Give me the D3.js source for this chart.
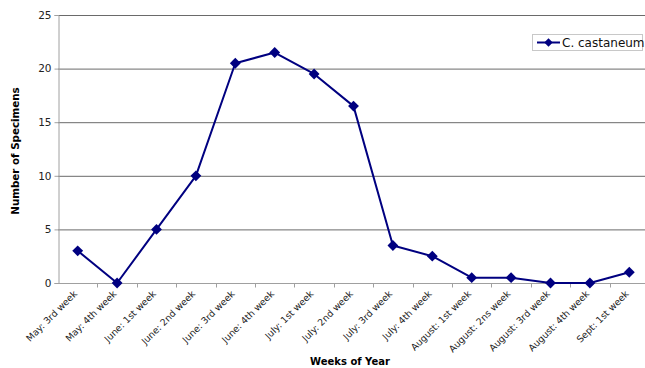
<!DOCTYPE html>
<html>
<head>
<meta charset="utf-8">
<script src="https://cdn.jsdelivr.net/npm/d3@7"></script>
<style>
  body { margin: 0; background: #fff; }
  text { font-family: "DejaVu Sans", Verdana, sans-serif; }
</style>
</head>
<body>
<div id="chart"></div>
<script>
// weeks on the x axis
var weeks = ["May: 3rd week", "May: 4th week", "June: 1st week", "June: 2nd week",
  "June: 3rd week", "June: 4th week", "July: 1st week", "July: 2nd week",
  "July: 3rd week", "July: 4th week", "August: 1st week", "August: 2ns week",
  "August: 3rd week", "August: 4th week", "Sept: 1st week"];
// specimen counts
var specimens = [3, 0, 5, 10, 20.5, 21.5, 19.5, 16.5, 3.5, 2.5, 0.5, 0.5, 0, 0, 1];
var yTicks = [0, 5, 10, 15, 20, 25];
var seriesName = "C. castaneum";

var W = 645, H = 368;
var margin = {top: 15, right: -4, bottom: 85, left: 58};
var width = W - margin.left - margin.right;
var height = H - margin.top - margin.bottom;

var svg = d3.select("#chart").append("svg")
  .attr("width", W).attr("height", H);

var g = svg.append("g")
  .attr("transform", "translate(" + margin.left + "," + margin.top + ")");

var x = d3.scaleBand().domain(weeks).range([0, width]);
var y = d3.scaleLinear().domain([0, 25]).range([height, 0]);

// gridlines
g.append("g").selectAll("line")
  .data(yTicks.filter(function (d) { return d > 0; }))
  .enter().append("line")
  .attr("x1", 0).attr("x2", width)
  .attr("y1", function (d) { return y(d) + 0.5; })
  .attr("y2", function (d) { return y(d) + 0.5; })
  .attr("stroke", "#6a6a6a").attr("stroke-width", 1);

// y axis
var yAxis = g.append("g")
  .attr("transform", "translate(0.5,0)")
  .call(d3.axisLeft(y).tickValues(yTicks).tickSize(4).tickPadding(3));
yAxis.select(".domain").attr("stroke", "#a0a0a0");
yAxis.selectAll(".tick line").attr("stroke", "#a0a0a0");
yAxis.selectAll("text").attr("font-size", 10.5).attr("fill", "#222");

// x axis with ticks between categories
var xAxis = g.append("g").attr("transform", "translate(0," + (height + 0.5) + ")");
xAxis.append("line").attr("x1", 0).attr("x2", width)
  .attr("stroke", "#a0a0a0");
xAxis.selectAll("line.tk")
  .data(weeks)
  .enter().append("line").attr("class", "tk")
  .attr("x1", function (d, i) { return Math.round(x.step() * (i + 1)) + 0.5; })
  .attr("x2", function (d, i) { return Math.round(x.step() * (i + 1)) + 0.5; })
  .attr("y1", 0).attr("y2", 4)
  .attr("stroke", "#a0a0a0");
xAxis.selectAll("text.lbl")
  .data(weeks)
  .enter().append("text").attr("class", "lbl")
  .attr("transform", function (d) {
    return "translate(" + (x(d) + x.bandwidth() / 2) + ",11) rotate(-45)";
  })
  .attr("text-anchor", "end")
  .attr("font-size", 9.3)
  .attr("fill", "#222")
  .text(function (d) { return d; });

// axis titles
svg.append("text")
  .attr("x", 350).attr("y", 365)
  .attr("text-anchor", "middle")
  .attr("font-size", 10).attr("font-weight", "bold")
  .text("Weeks of Year");
svg.append("text")
  .attr("transform", "translate(19," + (margin.top + height / 2 + 2) + ") rotate(-90)")
  .attr("text-anchor", "middle")
  .attr("font-size", 10.3).attr("font-weight", "bold")
  .text("Number of Specimens");

// line and markers
var line = d3.line()
  .x(function (d, i) { return x(weeks[i]) + x.bandwidth() / 2; })
  .y(function (d) { return y(d); });

g.append("path")
  .datum(specimens)
  .attr("fill", "none")
  .attr("stroke", "#000080")
  .attr("stroke-width", 2)
  .attr("stroke-linejoin", "round")
  .attr("d", line);

var diamond = d3.symbol().type(d3.symbolDiamond2).size(75);
g.selectAll("path.pt")
  .data(specimens)
  .enter().append("path").attr("class", "pt")
  .attr("transform", function (d, i) {
    return "translate(" + (x(weeks[i]) + x.bandwidth() / 2) + "," + y(d) + ")";
  })
  .attr("d", diamond)
  .attr("fill", "#000080");

// legend
var lg = svg.append("g").attr("transform", "translate(532,34)");
lg.append("rect")
  .attr("x", 0.5).attr("y", 0.5).attr("width", 110).attr("height", 16)
  .attr("fill", "#fff").attr("stroke", "#c8c8c8");
lg.append("line").attr("x1", 5).attr("x2", 28).attr("y1", 8.5).attr("y2", 8.5)
  .attr("stroke", "#000080").attr("stroke-width", 2);
lg.append("path").attr("transform", "translate(16.5,8.5)")
  .attr("d", d3.symbol().type(d3.symbolDiamond2).size(45))
  .attr("fill", "#000080");
lg.append("text").attr("x", 30).attr("y", 13)
  .attr("font-size", 12).attr("fill", "#111")
  .text(seriesName);
</script>
</body>
</html>
